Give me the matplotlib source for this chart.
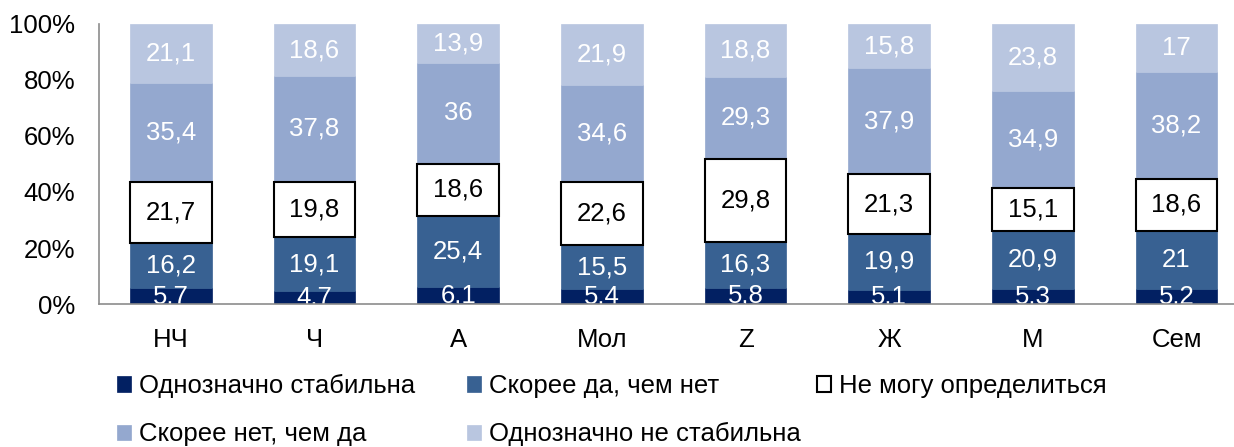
import numpy as np
import matplotlib.pyplot as plt

plt.rcParams['font.family'] = ['Liberation Sans', 'DejaVu Sans']

# категории и значения (в процентах)
categories = ['НЧ', 'Ч', 'А', 'Мол', 'Z', 'Ж', 'М', 'Сем']
series_names = ['Однозначно стабильна', 'Скорее да, чем нет', 'Не могу определиться',
                'Скорее нет, чем да', 'Однозначно не стабильна']
s_stab = [5.7, 4.7, 6.1, 5.4, 5.8, 5.1, 5.3, 5.2]
s_yes = [16.2, 19.1, 25.4, 15.5, 16.3, 19.9, 20.9, 21]
s_unsure = [21.7, 19.8, 18.6, 22.6, 29.8, 21.3, 15.1, 18.6]
s_no = [35.4, 37.8, 36, 34.6, 29.3, 37.9, 34.9, 38.2]
s_unstab = [21.1, 18.6, 13.9, 21.9, 18.8, 15.8, 23.8, 17]

series = [s_stab, s_yes, s_unsure, s_no, s_unstab]
colors = ['#022062', '#386192', '#ffffff', '#94a8cf', '#b9c6e0']
edges = ['#022062', '#386192', '#000000', '#94a8cf', '#b9c6e0']
text_colors = ['white', 'white', 'black', 'white', 'white']

fig = plt.figure(figsize=(12.34, 4.47), dpi=100)
ax = fig.add_axes([99 / 1234, 143 / 447, 1135 / 1234, 280 / 447])

x = np.arange(len(categories))
width = 0.57
bottom = np.zeros(len(categories))
handles = []
for i, vals in enumerate(series):
    vals = np.array(vals, dtype=float)
    lw = 1.5 if i == 2 else 0.5
    bars = ax.bar(x, vals, width, bottom=bottom, color=colors[i], edgecolor=edges[i],
                  linewidth=lw, label=series_names[i], zorder=2 if i != 2 else 3)
    handles.append(bars)
    for xi, b, v in zip(x, bottom, vals):
        lab = ('%g' % v).replace('.', ',')
        ax.text(xi, b + v / 2, lab, ha='center', va='center', fontsize=18.5,
                color=text_colors[i], zorder=4, clip_on=True)
    bottom += vals

ax.set_xlim(-0.5, 7.4)
ax.set_ylim(0, 100)
ax.set_yticks(np.arange(0, 101, 20))
ax.set_yticklabels(['%d%%' % v for v in range(0, 101, 20)], fontsize=18.5)
ax.set_xticks(x)
ax.set_xticklabels(categories, fontsize=18.5)
ax.tick_params(axis='y', length=0, pad=17)
ax.tick_params(axis='x', length=0, pad=17)
for s in ['top', 'right']:
    ax.spines[s].set_visible(False)
for s in ['left', 'bottom']:
    ax.spines[s].set_color('#8c8c8c')
    ax.spines[s].set_linewidth(1.2)
    ax.spines[s].set_zorder(5)

# легенда: три колонки с фиксированными позициями
columns = [[0, 3], [1, 4], [2]]
col_x = [117, 467, 817]
for cols, cx in zip(columns, col_x):
    fig.legend([handles[i] for i in cols], [series_names[i] for i in cols],
               loc='upper left', bbox_to_anchor=(cx / 1234, 1 - 374 / 447),
               frameon=False, fontsize=18.5, handlelength=0.55, handleheight=0.55,
               handletextpad=0.3, labelspacing=0.95, borderpad=0, borderaxespad=0)

fig.savefig('out.png', dpi=100)
